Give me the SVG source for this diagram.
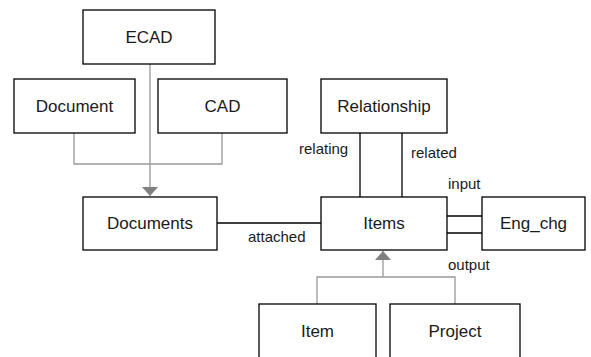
<svg xmlns="http://www.w3.org/2000/svg" width="591" height="357" viewBox="0 0 591 357">
  <style>
    .box { fill: #ffffff; stroke: #000000; stroke-width: 1.3; }
    .name { font-family: "Liberation Sans", Arial, sans-serif; font-size: 17px; fill: #1a1a1a; text-anchor: middle; dominant-baseline: central; }
    .lbl { font-family: "Liberation Sans", Arial, sans-serif; font-size: 15px; fill: #1a1a1a; }
    .assoc { fill: none; stroke: #000000; stroke-width: 1.3; }
    .inh { fill: none; stroke: #999999; stroke-width: 1.3; }
  </style>
  <defs>
    <marker id="tri" viewBox="0 0 9 16" refX="9" refY="8" markerWidth="9" markerHeight="16" markerUnits="userSpaceOnUse" orient="auto">
      <path d="M0,0 L9,8 L0,16 Z" fill="#808080"/>
    </marker>
  </defs>
  <rect width="591" height="357" fill="#ffffff"/>

  <g id="connectors">
    <!-- generalisation into Documents -->
    <path class="inh" d="M74,133 V164 H222 V133"/>
    <path class="inh" d="M150,64 V196" marker-end="url(#tri)"/>
    <!-- generalisation into Items -->
    <path class="inh" d="M317,304 V277 H455 V304"/>
    <path class="inh" d="M383,277 V251" marker-end="url(#tri)"/>
    <!-- associations -->
    <path class="assoc" d="M217,223 H321"/>
    <path class="assoc" d="M360,133 V197"/>
    <path class="assoc" d="M402,133 V197"/>
    <path class="assoc" d="M447,216 H482"/>
    <path class="assoc" d="M447,233 H482"/>
    <text class="lbl" x="248" y="242">attached</text>
    <text class="lbl" x="299" y="154">relating</text>
    <text class="lbl" x="411" y="158">related</text>
    <text class="lbl" x="448" y="189">input</text>
    <text class="lbl" x="448" y="270">output</text>
  </g>

  <g id="ecad">
    <rect class="box" x="83" y="10" width="132" height="54"/>
    <text class="name" x="149" y="37">ECAD</text>
  </g>
  <g id="document">
    <rect class="box" x="14" y="79" width="121" height="54"/>
    <text class="name" x="74.5" y="106">Document</text>
  </g>
  <g id="cad">
    <rect class="box" x="158" y="79" width="129" height="54"/>
    <text class="name" x="222.5" y="106">CAD</text>
  </g>
  <g id="documents">
    <rect class="box" x="83" y="197" width="134" height="53"/>
    <text class="name" x="150" y="223.5">Documents</text>
  </g>
  <g id="relationship">
    <rect class="box" x="321" y="79" width="126" height="54"/>
    <text class="name" x="384" y="106">Relationship</text>
  </g>
  <g id="items">
    <rect class="box" x="321" y="197" width="126" height="53"/>
    <text class="name" x="384" y="223.5">Items</text>
  </g>
  <g id="eng_chg">
    <rect class="box" x="482" y="197" width="103" height="53"/>
    <text class="name" x="533.5" y="223.5">Eng_chg</text>
  </g>
  <g id="item">
    <rect class="box" x="259" y="304" width="117" height="60"/>
    <text class="name" x="317.5" y="331">Item</text>
  </g>
  <g id="project">
    <rect class="box" x="390" y="304" width="130" height="60"/>
    <text class="name" x="455" y="331">Project</text>
  </g>
</svg>
